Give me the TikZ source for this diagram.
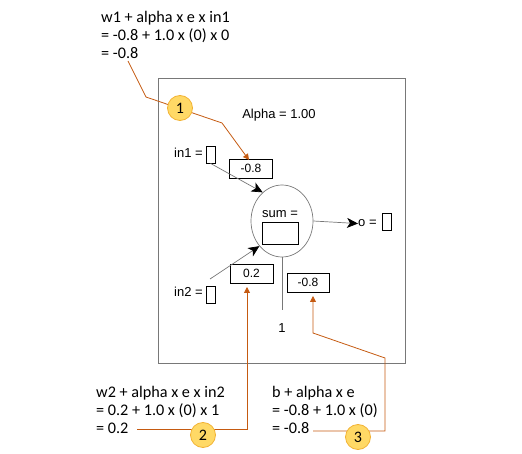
\documentclass[tikz,border=0pt]{standalone}
\usepackage{fontspec}
\setmainfont{Liberation Sans}
\newfontfamily\calib{Carlito}
\usetikzlibrary{arrows.meta,shapes.geometric,calc}
\definecolor{orline}{RGB}{197,90,17}
\definecolor{cfill}{RGB}{255,217,102}
\definecolor{cdraw}{RGB}{242,178,51}
\definecolor{gline}{RGB}{120,120,120}
\tikzset{
  lab/.style={font=\fontsize{13}{15}\selectfont, inner sep=0pt},
  frm/.style={font=\calib\fontsize{16.2}{18}\selectfont, inner sep=0pt, anchor=base west},
  vbox/.style={draw=black, line width=0.8pt, minimum width=9pt, minimum height=17pt, inner sep=0pt},
  wbox/.style={draw=black, line width=0.8pt, minimum width=43pt, minimum height=19pt, inner sep=0pt, font=\fontsize{12}{14}\selectfont},
  badge/.style={circle, draw=cdraw, fill=cfill, line width=0.8pt, minimum size=25pt, inner sep=0pt, font=\calib\fontsize{16}{18}\selectfont},
  oconn/.style={draw=orline, line width=0.8pt},
  oarr/.style={oconn, -{Triangle[length=6pt,width=6pt]}},
  garr/.style={draw=gline, line width=0.7pt, -{Stealth[length=11pt,width=10pt,inset=3pt,color=black]}},
}
\begin{document}
\begin{tikzpicture}[x=1pt,y=-1pt]
\useasboundingbox (0,0) rectangle (522,454);
% frame
\node[draw=gline, line width=0.8pt, minimum width=247pt, minimum height=285pt, inner sep=0pt] (frame) at (281.5,220.5) {};
% alpha
\node[lab, anchor=base] (alpha) at (279,119) {Alpha = 1.00};
% sum neuron
\node[ellipse, draw=gline, line width=0.7pt, minimum width=62pt, minimum height=72pt, inner sep=0pt] (sum) at (282,221) {};
\node[lab, anchor=base] (sumlab) at (280,218) {sum =};
\node[draw=black, line width=0.8pt, minimum width=36pt, minimum height=22pt, inner sep=0pt] (sumbox) at (280,233) {};
% inputs
\node[lab, anchor=base east] (in1lab) at (203,158) {in1 =};
\node[vbox] (in1box) at (210.5,154.5) {};
\node[lab, anchor=base east] (in2lab) at (203,297) {in2 =};
\node[vbox] (in2box) at (210.5,294.5) {};
\coordinate (in2s) at (210,279);
% weights
\node[wbox] (w1box) at (251,168.5) {-0.8};
\node[wbox] (w2box) at (251.5,273.5) {0.2};
\node[wbox, minimum width=42pt] (bbox) at (308,282.5) {-0.8};
% output
\node[lab, anchor=base west] (olab) at (358,227) {o =};
\node[vbox] (obox) at (386.5,221.5) {};
% bias
\coordinate (bt) at (282,310);
\node[lab, anchor=base] (one) at (282,333) {1};
\draw[draw=gline, line width=0.8pt] (sum.south) -- (bt);
% arrows
\draw[garr] (in1box.south) -- (sum.124);
\draw[garr] (in2s) -- (sum.228);
\draw[garr] (sum.east) -- (olab.west);
% formulas
\node[frm] (f1a) at (101,23) {w1 + alpha x e x in1};
\node[frm] (f1b) at (101,41) {= -0.8 + 1.0 x (0) x 0};
\node[frm] (f1c) at (101,59) {= -0.8};
\node[frm] (f2a) at (96,397) {w2 + alpha x e x in2};
\node[frm] (f2b) at (96,415) {= 0.2 + 1.0 x (0) x 1};
\node[frm] (f2c) at (96,433) {= 0.2};
\node[frm] (f3a) at (272,397) {b + alpha x e};
\node[frm] (f3b) at (272,415) {= -0.8 + 1.0 x (0)};
\node[frm] (f3c) at (272,433) {= -0.8};
% orange callouts
\coordinate (t1) at (128,61);
\coordinate (k1a) at (146,97);
\coordinate (k1b) at (222,123);
\coordinate (t2) at (137,429);
\coordinate (k2) at (247,429);
\coordinate (e2) at (247,287);
\coordinate (t3) at (313,431);
\coordinate (k3a) at (385,431);
\coordinate (k3b) at (385,358);
\coordinate (k3c) at (313,333);
\coordinate (e3) at (313,296);
\coordinate (e1) at (249,160);
\draw[oarr] (t1) -- (k1a) -- (k1b) -- (e1);
\draw[oarr] (t2) -- (k2) -- (e2);
\draw[oarr] (t3) -- (k3a) -- (k3b) -- (k3c) -- (e3);
\node[badge] (c1) at (180,108) {1};
\node[badge] (c2) at (203,435) {2};
\node[badge] (c3) at (358,437) {3};
\end{tikzpicture}
\end{document}
